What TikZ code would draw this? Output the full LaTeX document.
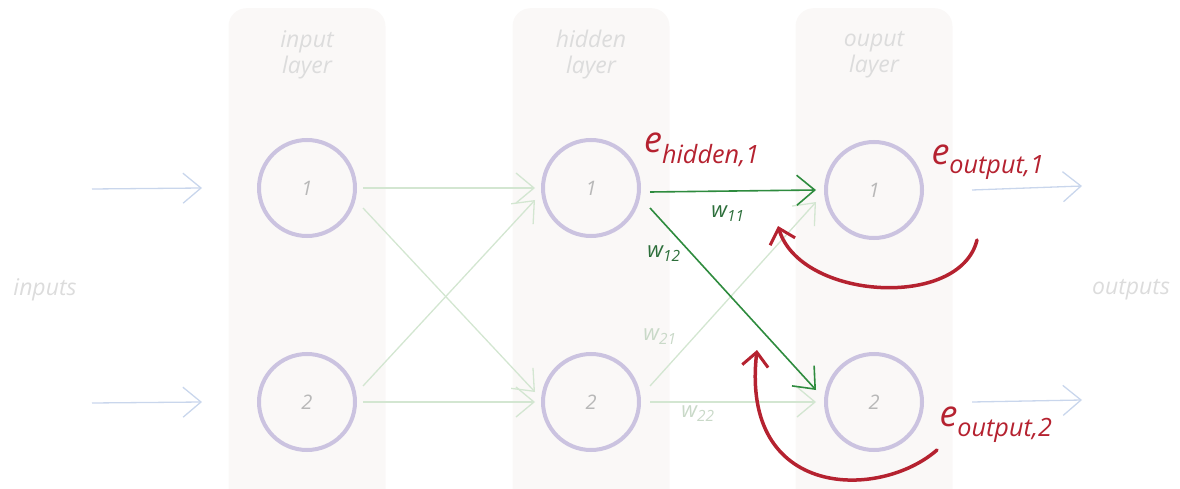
\documentclass[tikz,border=0pt]{standalone}
\usepackage{fontspec}
\setmainfont{Open Sans}
\usetikzlibrary{arrows.meta}
\definecolor{panelfill}{HTML}{FAF8F7}
\definecolor{ringcol}{HTML}{CBC3E0}
\definecolor{labgray}{HTML}{DCDCDC}
\definecolor{numgray}{HTML}{B8B8B8}
\definecolor{lightgreen}{HTML}{D3E6D1}
\definecolor{darkgreen}{HTML}{2E8B3E}
\definecolor{wdark}{HTML}{2C6E3A}
\definecolor{wlight}{HTML}{C9D9C8}
\definecolor{errred}{HTML}{B52230}
\definecolor{iocol}{HTML}{C9D6EC}
\tikzset{
  panel/.style={rounded corners=18pt, fill=panelfill, draw=none, minimum width=157pt, minimum height=500pt, anchor=north},
  neuron/.style={circle, draw=ringcol, line width=4pt, minimum size=96pt, inner sep=0pt, text=numgray, font=\itshape\fontsize{20}{22}\selectfont},
  laylab/.style={text=labgray, font=\itshape\fontsize{23}{26}\selectfont, align=center},
  iolab/.style={text=labgray, font=\itshape\fontsize{23}{26}\selectfont},
  ioarrow/.style={draw=iocol, line width=1.3pt, -{Straight Barb[length=18pt,width=30pt,line width=1.3pt]}},
  lgarrow/.style={draw=lightgreen, line width=1.3pt, -{Straight Barb[length=18pt,width=30pt,line width=1.3pt]}},
  dgarrow/.style={draw=darkgreen, line width=1.6pt, -{Straight Barb[length=18pt,width=30pt,line width=1.6pt]}},
  wdlab/.style={text=wdark, font=\itshape\fontsize{22}{24}\selectfont},
  wllab/.style={text=wlight, font=\itshape\fontsize{22}{24}\selectfont},
  elab/.style={text=errred, font=\itshape\fontsize{36}{40}\selectfont},
  redarrow/.style={draw=errred, line width=3.5pt, line cap=round, -{Straight Barb[length=14pt,width=26pt,line width=3pt]}},
}
\begin{document}
\begin{tikzpicture}[x=1pt,y=-1pt]
\useasboundingbox (0,0) rectangle (1180,489);
% panels
\node[panel] (pin) at (307,8) {};
\node[panel] (phid) at (591,8) {};
\node[panel] (pout) at (874,8) {};
% layer labels
\node[laylab] (lin) at (307,55) {input\\layer};
\node[laylab] (lhid) at (591,55) {hidden\\layer};
\node[laylab] (lout) at (874,55) {ouput\\layer};
% neurons
\node[neuron] (i1) at (307,188) {1};
\node[neuron] (i2) at (307,402) {2};
\node[neuron] (h1) at (591,188) {1};
\node[neuron] (h2) at (591,402) {2};
\node[neuron] (o1) at (874,190) {1};
\node[neuron] (o2) at (874,402) {2};
% io labels
\node[iolab] (inputs) at (45,290) {inputs};
\node[iolab] (outputs) at (1131,290) {outputs};
% input / output arrows
\coordinate (a1) at (92,189);
\coordinate (a2) at (92,403);
\coordinate (b1) at (1082,186);
\coordinate (b2) at (1082,400);
\draw[ioarrow] (a1) -- ([xshift=-55pt]i1.west);
\draw[ioarrow] (a2) -- ([xshift=-55pt]i2.west);
\draw[ioarrow] ([xshift=48pt]o1.east) -- (b1);
\draw[ioarrow] ([xshift=48pt]o2.east) -- (b2);
% input -> hidden
\draw[lgarrow] ([xshift=6pt]i1.east) -- ([xshift=-6pt]h1.west);
\draw[lgarrow] ([xshift=6pt,yshift=-20pt]i1.east) -- ([xshift=-6pt,yshift=10pt]h2.west);
\draw[lgarrow] ([xshift=6pt,yshift=16pt]i2.east) -- ([xshift=-6pt,yshift=-12pt]h1.west);
\draw[lgarrow] ([xshift=6pt]i2.east) -- ([xshift=-6pt]h2.west);
% hidden -> output
\draw[lgarrow] ([xshift=9pt,yshift=16pt]h2.east) -- ([xshift=-8pt,yshift=-12pt]o1.west);
\draw[lgarrow] ([xshift=9pt]h2.east) -- ([xshift=-8pt]o2.west);
\draw[dgarrow] ([xshift=9pt,yshift=-4pt]h1.east) -- ([xshift=-8pt]o1.west);
\draw[dgarrow] ([xshift=9pt,yshift=-20pt]h1.east) -- ([xshift=-8pt,yshift=12pt]o2.west);
% weight labels
\node[wdlab] (w11) at (728,214) {w\textsubscript{11}};
\node[wdlab] (w12) at (664,254) {w\textsubscript{12}};
\node[wllab] (w21) at (660,337) {w\textsubscript{21}};
\node[wllab] (w22) at (698,414) {w\textsubscript{22}};
% error labels
\node[elab] (eh) at (702,150) {e\textsubscript{hidden,1}};
\node[elab] (eo1) at (988,162) {e\textsubscript{output,1}};
\node[elab] (eo2) at (996,425) {e\textsubscript{output,2}};
% red backprop arrows
\coordinate (r1s) at (977,240);
\coordinate (r1e) at (778,226);
\coordinate (r2s) at (937,450);
\coordinate (r2e) at (757,350);
\draw[redarrow] (r1s) .. controls (960,310) and (800,300) .. (r1e);
\draw[redarrow] (r2s) .. controls (880,500) and (740,500) .. (r2e);
\end{tikzpicture}
\end{document}
